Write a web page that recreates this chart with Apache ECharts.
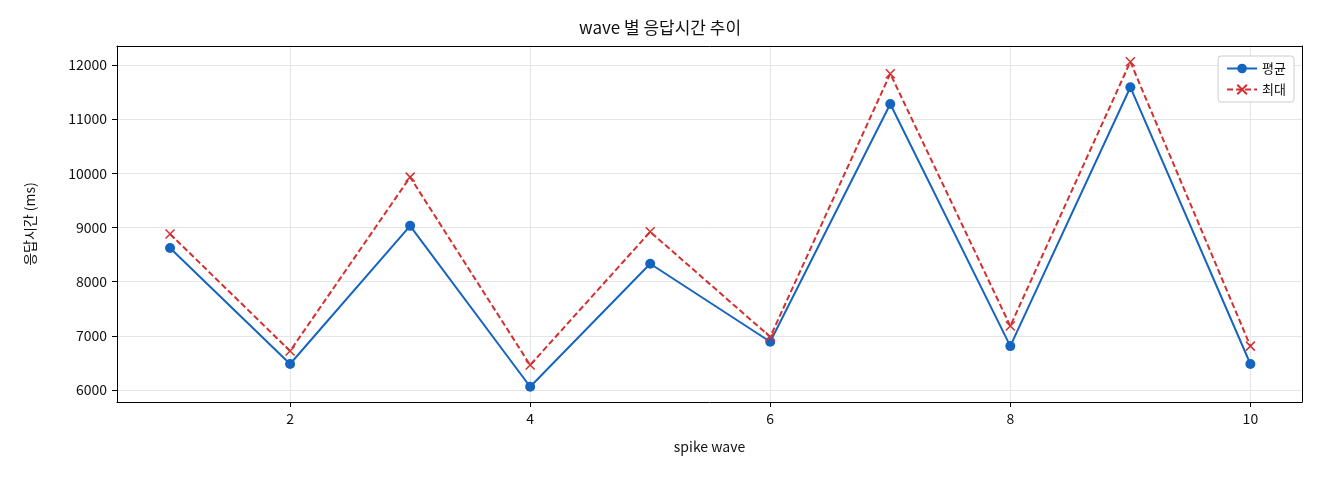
<!DOCTYPE html>
<html><head><meta charset="utf-8">
<script src="https://cdn.jsdelivr.net/npm/echarts@6/dist/echarts.min.js"></script>
<style>html,body{margin:0;padding:0;background:#fff}#c{width:1320px;height:480px}</style>
</head><body><div id="c"></div>
<script>
const waves = [1,2,3,4,5,6,7,8,9,10];
const avgMs = [8620,6480,9030,6060,8330,6890,11280,6810,11590,6480];
const maxMs = [8880,6720,9930,6460,8920,6980,11840,7180,12060,6810];
const xTicks = [2,4,6,8,10];
const yTicks = [6000,7000,8000,9000,10000,11000,12000];
const F = "'Noto Sans CJK KR', 'Noto Sans', sans-serif";
const chart = echarts.init(document.getElementById('c'));
const frameAxis = {type:'value',axisLine:{show:true,onZero:false,lineStyle:{color:'#000'}},axisTick:{show:false},axisLabel:{show:false},splitLine:{show:false}};
chart.setOption({
  animation:false,
  textStyle:{fontFamily:F},
  title:{text:'wave 별 응답시간 추이',left:'center',top:14,textStyle:{fontFamily:F,fontSize:17,fontWeight:'normal',color:'#111'}},
  legend:{right:26,top:56,orient:'vertical',itemGap:8,itemWidth:30,itemHeight:12,
    backgroundColor:'#fff',borderColor:'#ccc',borderWidth:1,borderRadius:3,padding:[6,8],
    textStyle:{fontFamily:F,fontSize:13,color:'#111'},
    data:['평균','최대']},
  grid:{left:117,right:18,top:46,bottom:78},
  xAxis:[{type:'value',min:0.558,max:10.43,
    name:'spike wave',nameLocation:'middle',nameGap:38,nameTextStyle:{fontFamily:F,fontSize:14,color:'#111'},
    axisLine:{show:true,onZero:false,lineStyle:{color:'#000'}},
    axisTick:{show:true,customValues:xTicks,lineStyle:{color:'#000'}},
    axisLabel:{customValues:xTicks,fontSize:14,color:'#111',margin:10},
    splitLine:{show:true,lineStyle:{color:'#e5e5e5'}}},
    Object.assign({position:'top',min:0.558,max:10.43},frameAxis)],
  yAxis:[{type:'value',min:5778,max:12351,
    name:'응답시간 (ms)',nameLocation:'middle',nameGap:80,nameTextStyle:{fontFamily:F,fontSize:14,color:'#111'},
    axisLine:{show:true,onZero:false,lineStyle:{color:'#000'}},
    axisTick:{show:true,customValues:yTicks,lineStyle:{color:'#000'}},
    axisLabel:{customValues:yTicks,fontSize:14,color:'#111',margin:10,formatter:v=>String(v)},
    splitLine:{show:true,lineStyle:{color:'#e5e5e5'}}},
    Object.assign({position:'right',min:5778,max:12351},frameAxis)],
  series:[
    {name:'평균',type:'line',data:waves.map((w,i)=>[w,avgMs[i]]),color:'#1565c0',
     symbol:'circle',symbolSize:10,lineStyle:{width:2,color:'#1565c0'},itemStyle:{color:'#1565c0'}},
    {name:'최대',type:'line',data:waves.map((w,i)=>[w,maxMs[i]]),color:'#d32f2f',
     symbol:'path://M0,0 L10,10 M10,0 L0,10',symbolSize:9,lineStyle:{width:2,type:[6,3],color:'#d32f2f'},
     itemStyle:{color:'#d32f2f',borderColor:'#d32f2f',borderWidth:1.5}}
  ]
});
</script></body></html>
